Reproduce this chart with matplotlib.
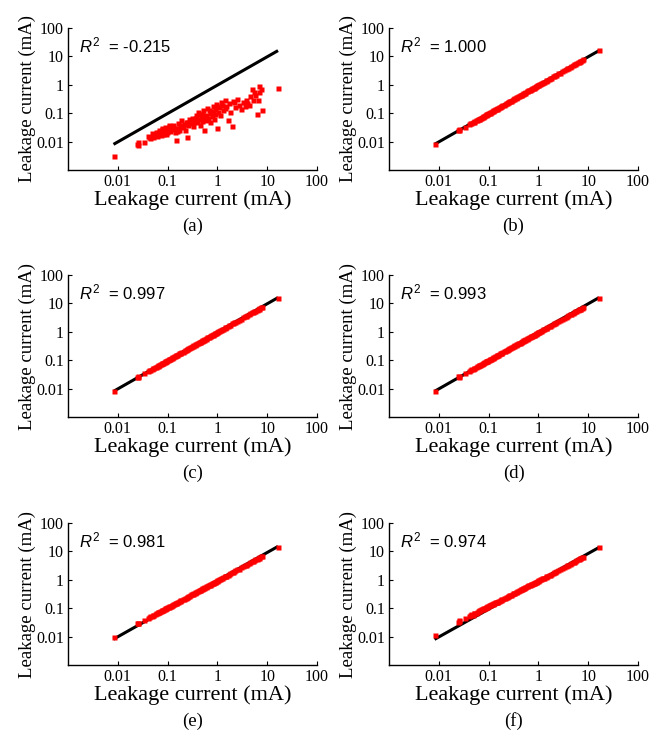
import matplotlib
matplotlib.use("Agg")
import matplotlib.pyplot as plt
from matplotlib.ticker import FixedLocator, FixedFormatter, NullLocator

# ---------------- data ----------------
measured = [
    0.0085, 0.024, 0.025, 0.026, 0.033, 0.040, 0.043, 0.045, 0.048, 0.050,
    0.052, 0.055, 0.058, 0.060, 0.063, 0.066, 0.070, 0.073, 0.076, 0.080,
    0.083, 0.087, 0.090, 0.094, 0.098, 0.100, 0.105, 0.110, 0.115, 0.120,
    0.125, 0.130, 0.140, 0.145, 0.150, 0.160, 0.170, 0.180, 0.190, 0.200,
    0.210, 0.220, 0.230, 0.240, 0.250, 0.260, 0.280, 0.300, 0.310, 0.330,
    0.350, 0.370, 0.390, 0.400, 0.420, 0.440, 0.460, 0.480, 0.500, 0.520,
    0.550, 0.580, 0.600, 0.630, 0.660, 0.700, 0.720, 0.750, 0.780, 0.800,
    0.850, 0.880, 0.900, 0.950, 1.00, 1.05, 1.10, 1.15, 1.20, 1.30,
    1.40, 1.50, 1.60, 1.70, 1.80, 2.00, 2.10, 2.30, 2.50, 2.70,
    3.00, 3.30, 3.60, 4.00, 4.30, 4.60, 5.00, 5.20, 5.50, 5.80,
    6.20, 6.60, 7.00, 7.50, 8.00, 16.5,
    0.065, 0.078, 0.092, 0.108, 0.135, 0.155, 0.175, 0.270, 0.320, 0.360,
    0.450, 0.530, 0.680, 0.820, 0.980, 1.25, 1.45, 2.20, 3.80, 6.80,
]

pred_a = [
    0.0030, 0.0085, 0.0075, 0.0095, 0.0093, 0.016, 0.014, 0.013, 0.020, 0.017,
    0.015, 0.018, 0.022, 0.016, 0.019, 0.025, 0.020, 0.017, 0.030, 0.019,
    0.026, 0.022, 0.034, 0.028, 0.022, 0.028, 0.040, 0.024, 0.033, 0.027,
    0.036, 0.038, 0.021, 0.011, 0.030, 0.045, 0.026, 0.036, 0.060, 0.032,
    0.042, 0.025, 0.050, 0.048, 0.015, 0.038, 0.055, 0.045, 0.070, 0.036,
    0.060, 0.085, 0.050, 0.110, 0.065, 0.040, 0.075, 0.095, 0.055, 0.130,
    0.025, 0.085, 0.060, 0.150, 0.070, 0.100, 0.050, 0.120, 0.080, 0.180,
    0.065, 0.140, 0.095, 0.210, 0.030, 0.110, 0.160, 0.085, 0.250, 0.130,
    0.300, 0.180, 0.060, 0.220, 0.110, 0.035, 0.270, 0.160, 0.320, 0.200,
    0.140, 0.250, 0.180, 0.230, 0.200, 0.400, 0.700, 0.300, 0.550, 0.450,
    0.095, 0.300, 0.900, 0.700, 0.130, 0.750,
    0.022, 0.028, 0.018, 0.035, 0.031, 0.024, 0.040, 0.062, 0.048, 0.070,
    0.090, 0.070, 0.130, 0.110, 0.180, 0.200, 0.150, 0.250, 0.300, 0.550,
]

pred_b = [
    0.0082, 0.025, 0.025, 0.027, 0.034, 0.041, 0.044, 0.046, 0.048, 0.051,
    0.052, 0.056, 0.058, 0.061, 0.063, 0.067, 0.070, 0.074, 0.076, 0.081,
    0.083, 0.088, 0.090, 0.095, 0.098, 0.101, 0.105, 0.111, 0.115, 0.121,
    0.125, 0.131, 0.140, 0.146, 0.150, 0.161, 0.170, 0.181, 0.190, 0.201,
    0.210, 0.221, 0.230, 0.241, 0.250, 0.261, 0.280, 0.301, 0.310, 0.331,
    0.350, 0.371, 0.390, 0.401, 0.420, 0.441, 0.460, 0.481, 0.500, 0.521,
    0.550, 0.581, 0.600, 0.631, 0.660, 0.701, 0.720, 0.751, 0.780, 0.801,
    0.850, 0.881, 0.900, 0.951, 1.00, 1.05, 1.10, 1.15, 1.20, 1.30,
    1.40, 1.50, 1.60, 1.70, 1.80, 2.00, 2.10, 2.30, 2.50, 2.70,
    3.00, 3.30, 3.60, 4.00, 4.30, 4.60, 5.00, 5.20, 5.50, 5.80,
    6.20, 6.60, 7.00, 7.50, 8.00, 16.5,
    0.065, 0.078, 0.092, 0.108, 0.135, 0.155, 0.175, 0.270, 0.320, 0.360,
    0.450, 0.530, 0.680, 0.820, 0.980, 1.25, 1.45, 2.20, 3.80, 6.80,
]

pred_c = [
    0.0082, 0.026, 0.025, 0.027, 0.035, 0.042, 0.045, 0.046, 0.050, 0.052,
    0.054, 0.056, 0.060, 0.062, 0.065, 0.067, 0.072, 0.075, 0.078, 0.082,
    0.085, 0.088, 0.093, 0.096, 0.100, 0.103, 0.108, 0.112, 0.118, 0.122,
    0.128, 0.132, 0.143, 0.147, 0.153, 0.162, 0.173, 0.182, 0.193, 0.202,
    0.213, 0.222, 0.233, 0.242, 0.253, 0.262, 0.283, 0.302, 0.313, 0.332,
    0.352, 0.372, 0.392, 0.402, 0.422, 0.442, 0.462, 0.482, 0.502, 0.522,
    0.552, 0.580, 0.600, 0.630, 0.660, 0.700, 0.718, 0.748, 0.775, 0.795,
    0.845, 0.875, 0.893, 0.940, 0.990, 1.04, 1.08, 1.13, 1.18, 1.28,
    1.38, 1.47, 1.57, 1.67, 1.76, 1.96, 2.05, 2.25, 2.44, 2.63,
    2.92, 3.20, 3.50, 3.88, 4.17, 4.45, 4.85, 5.03, 5.30, 5.60,
    5.98, 6.35, 6.75, 7.20, 7.65, 15.8,
    0.067, 0.080, 0.095, 0.111, 0.138, 0.158, 0.178, 0.272, 0.322, 0.362,
    0.452, 0.530, 0.676, 0.812, 0.968, 1.23, 1.42, 2.15, 3.68, 6.55,
]

pred_d = [
    0.0085, 0.027, 0.026, 0.028, 0.035, 0.043, 0.046, 0.048, 0.051, 0.053,
    0.055, 0.058, 0.061, 0.063, 0.066, 0.069, 0.073, 0.076, 0.079, 0.083,
    0.086, 0.090, 0.093, 0.097, 0.101, 0.104, 0.109, 0.113, 0.118, 0.123,
    0.128, 0.133, 0.143, 0.148, 0.153, 0.163, 0.173, 0.183, 0.193, 0.203,
    0.212, 0.222, 0.232, 0.242, 0.252, 0.262, 0.282, 0.302, 0.311, 0.331,
    0.350, 0.370, 0.389, 0.398, 0.418, 0.437, 0.456, 0.475, 0.494, 0.513,
    0.542, 0.571, 0.590, 0.619, 0.648, 0.686, 0.705, 0.734, 0.762, 0.781,
    0.829, 0.858, 0.876, 0.924, 0.972, 1.02, 1.07, 1.11, 1.16, 1.26,
    1.35, 1.44, 1.54, 1.63, 1.73, 1.92, 2.01, 2.20, 2.39, 2.58,
    2.86, 3.14, 3.42, 3.80, 4.08, 4.36, 4.73, 4.92, 5.20, 5.48,
    5.85, 6.22, 6.60, 7.05, 7.50, 15.5,
    0.068, 0.081, 0.096, 0.112, 0.139, 0.158, 0.178, 0.272, 0.321, 0.360,
    0.446, 0.522, 0.665, 0.799, 0.951, 1.21, 1.39, 2.10, 3.60, 6.40,
]

pred_e = [
    0.0095, 0.030, 0.029, 0.031, 0.038, 0.046, 0.050, 0.052, 0.055, 0.057,
    0.059, 0.062, 0.066, 0.068, 0.071, 0.074, 0.078, 0.081, 0.084, 0.088,
    0.091, 0.095, 0.098, 0.102, 0.106, 0.108, 0.113, 0.118, 0.123, 0.128,
    0.133, 0.138, 0.148, 0.153, 0.158, 0.168, 0.178, 0.188, 0.198, 0.208,
    0.218, 0.228, 0.238, 0.248, 0.258, 0.268, 0.288, 0.307, 0.317, 0.336,
    0.355, 0.374, 0.393, 0.403, 0.422, 0.441, 0.460, 0.478, 0.497, 0.516,
    0.544, 0.572, 0.590, 0.618, 0.646, 0.683, 0.701, 0.729, 0.756, 0.774,
    0.820, 0.848, 0.866, 0.911, 0.957, 1.00, 1.05, 1.09, 1.14, 1.23,
    1.32, 1.41, 1.50, 1.59, 1.68, 1.86, 1.95, 2.13, 2.31, 2.49,
    2.76, 3.02, 3.28, 3.63, 3.90, 4.16, 4.51, 4.68, 4.94, 5.20,
    5.55, 5.90, 6.25, 6.65, 7.05, 14.5,
    0.072, 0.085, 0.100, 0.116, 0.143, 0.163, 0.183, 0.278, 0.327, 0.365,
    0.450, 0.525, 0.664, 0.793, 0.940, 1.18, 1.36, 2.04, 3.45, 6.05,
]

pred_f = [
    0.0110, 0.033, 0.038, 0.036, 0.045, 0.055, 0.058, 0.062, 0.060, 0.066,
    0.068, 0.070, 0.075, 0.079, 0.080, 0.085, 0.090, 0.092, 0.096, 0.105,
    0.100, 0.108, 0.112, 0.115, 0.118, 0.125, 0.128, 0.135, 0.138, 0.145,
    0.150, 0.155, 0.162, 0.170, 0.172, 0.185, 0.190, 0.205, 0.212, 0.220,
    0.232, 0.240, 0.255, 0.262, 0.270, 0.285, 0.300, 0.318, 0.335, 0.345,
    0.370, 0.400, 0.410, 0.430, 0.440, 0.470, 0.480, 0.500, 0.520, 0.525,
    0.560, 0.590, 0.600, 0.630, 0.650, 0.700, 0.700, 0.740, 0.760, 0.790,
    0.810, 0.850, 0.870, 0.900, 0.960, 1.00, 1.04, 1.08, 1.12, 1.20,
    1.30, 1.38, 1.45, 1.52, 1.62, 1.78, 1.85, 2.02, 2.20, 2.35,
    2.60, 2.85, 3.10, 3.40, 3.65, 3.90, 4.20, 4.40, 4.60, 4.85,
    5.20, 5.50, 5.85, 6.20, 6.60, 14.0,
    0.083, 0.098, 0.110, 0.130, 0.160, 0.180, 0.200, 0.290, 0.340, 0.385,
    0.460, 0.540, 0.680, 0.800, 0.930, 1.15, 1.32, 1.95, 3.30, 5.70,
]

predictions = [pred_a, pred_b, pred_c, pred_d, pred_e, pred_f]
r2_values = ["-0.215", "1.000", "0.997", "0.993", "0.981", "0.974"]
panel_labels = ["(a)", "(b)", "(c)", "(d)", "(e)", "(f)"]
fit_x = [0.0082, 16.5]
fit_y = [[0.0080, 16.0], [0.0080, 16.0], [0.0080, 16.0],
         [0.0080, 16.0], [0.0081, 15.0], [0.0080, 13.8]]
tick_values = [0.01, 0.1, 1, 10, 100]
tick_labels = ["0.01", "0.1", "1", "10", "100"]
axis_label = "Leakage current (mA)"

# ---------------- style ----------------
plt.rcParams["mathtext.fontset"] = "custom"
plt.rcParams["mathtext.it"] = "Liberation Sans:italic"
plt.rcParams["mathtext.rm"] = "Liberation Sans"
SERIF = "Liberation Serif"
SANS = "Liberation Sans"

W, H = 664, 733
fig = plt.figure(figsize=(W / 100, H / 100), dpi=100)

lefts = [68, 389]
tops = [28, 275, 523]
aw, ah = 249, 142

for i, pred in enumerate(predictions):
    r, c = divmod(i, 2)
    left = lefts[c] / W
    bottom = (H - tops[r] - ah) / H
    ax = fig.add_axes([left, bottom, aw / W, ah / H])
    ax.set_xscale("log")
    ax.set_yscale("log")
    ax.plot(fit_x, fit_y[i], color="black", lw=2.2, solid_capstyle="butt", zorder=2)
    ax.plot(measured, pred, linestyle="none", marker="s", markersize=3.6,
            markerfacecolor="#ff0000", markeredgecolor="none", zorder=3)
    ax.set_xlim(0.001, 100)
    ax.set_ylim(0.001, 100)
    for s in ["top", "right"]:
        ax.spines[s].set_visible(False)
    for s in ["left", "bottom"]:
        ax.spines[s].set_linewidth(1.0)
    ax.xaxis.set_major_locator(FixedLocator(tick_values))
    ax.xaxis.set_major_formatter(FixedFormatter(tick_labels))
    ax.yaxis.set_major_locator(FixedLocator(tick_values))
    ax.yaxis.set_major_formatter(FixedFormatter(tick_labels))
    ax.xaxis.set_minor_locator(NullLocator())
    ax.yaxis.set_minor_locator(NullLocator())
    ax.tick_params(direction="in", length=3, width=0.8, labelsize=11.5, pad=3)
    for lab in ax.get_xticklabels() + ax.get_yticklabels():
        lab.set_fontfamily(SERIF)
    ax.set_xlabel(axis_label, fontfamily=SERIF, fontsize=16)
    ax.set_ylabel(axis_label, fontfamily=SERIF, fontsize=13.5)
    ax.xaxis.set_label_coords(0.5, -0.14)
    ax.yaxis.set_label_coords(-0.13, 0.5)
    ax.text(0.045, 0.88, r"$R^2$  = " + r2_values[i], transform=ax.transAxes,
            fontfamily=SANS, fontsize=12, ha="left", va="center")
    fig.text(left + aw / W / 2, (H - (tops[r] + ah + 56)) / H, panel_labels[i],
             fontfamily=SERIF, fontsize=13.5, ha="center", va="center")

fig.savefig("out.png", dpi=100)
